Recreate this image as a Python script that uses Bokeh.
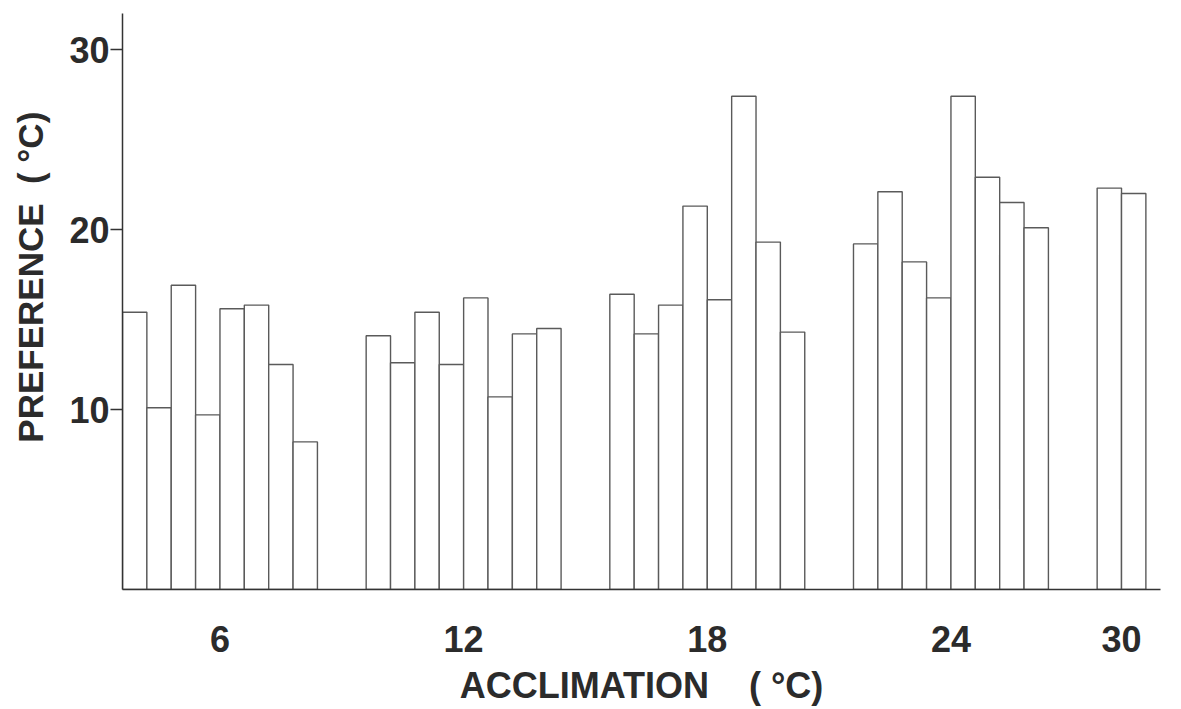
from bokeh.plotting import figure
from bokeh.models import ColumnDataSource, FixedTicker, Range1d
from bokeh.embed import file_html
from bokeh.resources import INLINE

# ---- data ----
acclimation = [6, 12, 18, 24, 30]
pref_6 = [15.4, 10.1, 16.9, 9.7, 15.6, 15.8, 12.5, 8.2]
pref_12 = [14.1, 12.6, 15.4, 12.5, 16.2, 10.7, 14.2, 14.5]
pref_18 = [16.4, 14.2, 15.8, 21.3, 16.1, 27.4, 19.3, 14.3]
pref_24 = [19.2, 22.1, 18.2, 16.2, 27.4, 22.9, 21.5, 20.1]
pref_30 = [22.3, 22.0]
y_ticks = [10, 20, 30]

groups = [pref_6, pref_12, pref_18, pref_24, pref_30]

# ---- layout (bar slots) ----
GROUP_STEP = 10  # 8 bar slots + 2 slot gap
xs, tops = [], []
tick_pos, tick_labels = [], {}
for gi, (acc, vals) in enumerate(zip(acclimation, groups)):
    start = gi * GROUP_STEP
    for j, v in enumerate(vals):
        xs.append(start + j + 0.5)
        tops.append(v)
    c = start + len(vals) / 2
    tick_pos.append(c)
    tick_labels[c] = str(acc)

src = ColumnDataSource(dict(x=xs, top=tops))

TXT = "#2b2b2b"
FONT = "Liberation Sans"
NB = "\u00a0"

p = figure(width=1170, height=708, output_backend="svg", toolbar_location=None,
           x_range=Range1d(0, 42.6), y_range=Range1d(0, 32.0),
           min_border_left=122, min_border_right=10, min_border_top=13,
           min_border_bottom=100)
p.outline_line_color = None
p.grid.visible = False
p.background_fill_color = "white"
p.border_fill_color = "white"

p.vbar(x="x", top="top", bottom=0, width=1.0, source=src,
       fill_color="white", line_color="#5a5a5a", line_width=1.4)

# y axis
ya = p.yaxis[0]
ya.ticker = FixedTicker(ticks=y_ticks, minor_ticks=[])
ya.axis_line_color = "#333333"
ya.axis_line_width = 1.5
ya.major_tick_line_color = "#333333"
ya.major_tick_line_width = 1.3
ya.major_tick_out = 12
ya.major_tick_in = 0
ya.minor_tick_line_color = None
ya.major_label_standoff = 1
ya.major_label_text_font = FONT
ya.major_label_text_font_style = "bold"
ya.major_label_text_font_size = "36px"
ya.major_label_text_color = TXT
ya.axis_label = NB * 5 + "PREFERENCE" + NB * 2 + "(" + NB + "°C)"
ya.axis_label_text_font = FONT
ya.axis_label_text_font_style = "bold"
ya.axis_label_text_font_size = "35px"
ya.axis_label_text_color = TXT
ya.axis_label_standoff = 16

# x axis
xa = p.xaxis[0]
xa.ticker = FixedTicker(ticks=tick_pos, minor_ticks=[])
xa.major_label_overrides = tick_labels
xa.axis_line_color = "#333333"
xa.axis_line_width = 1.5
xa.major_tick_line_color = None
xa.minor_tick_line_color = None
xa.major_label_standoff = 30
xa.major_label_text_font = FONT
xa.major_label_text_font_style = "bold"
xa.major_label_text_font_size = "36px"
xa.major_label_text_color = TXT
xa.axis_label = "ACCLIMATION" + NB * 4 + "(" + NB + "°C)"
xa.axis_label_text_font = FONT
xa.axis_label_text_font_style = "bold"
xa.axis_label_text_font_size = "36px"
xa.axis_label_text_color = TXT
xa.axis_label_standoff = 10

open("out.html", "w").write(file_html(p, INLINE))
